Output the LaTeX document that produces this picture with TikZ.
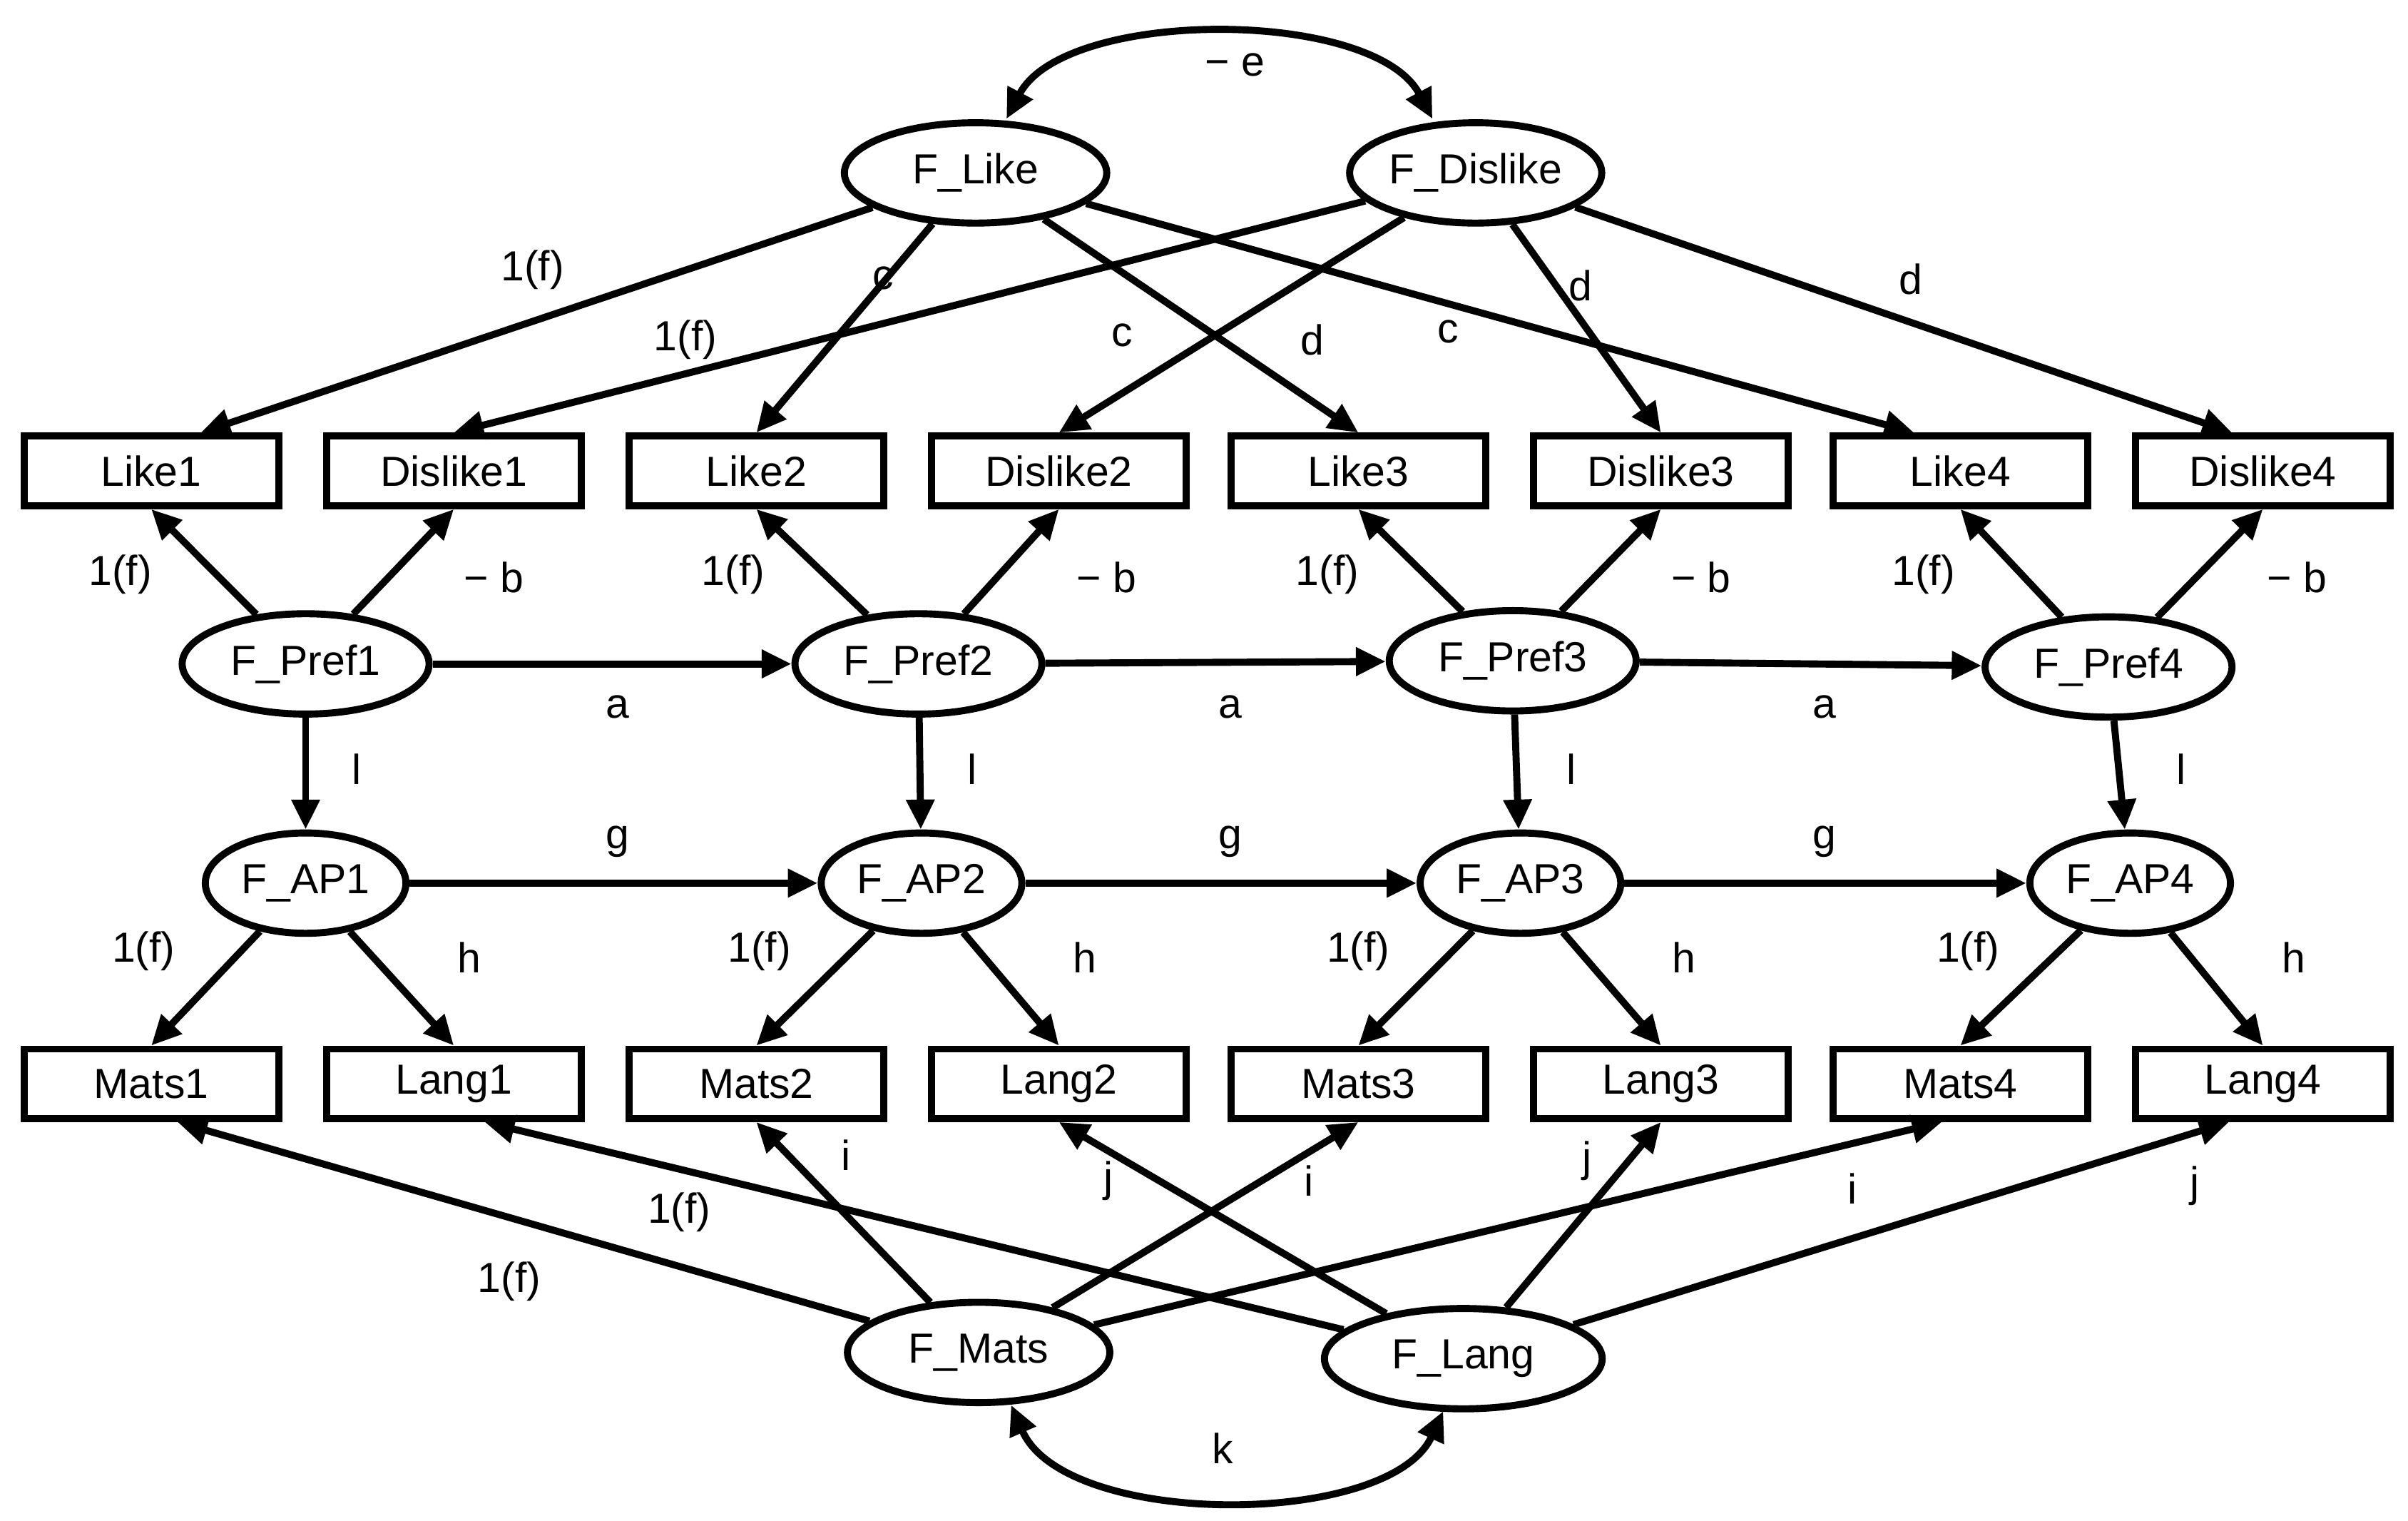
\documentclass[tikz,border=0pt]{standalone}
\usepackage{fontspec}
\setmainfont{Liberation Sans}
\usetikzlibrary{arrows.meta,shapes.geometric}
\begin{document}
\begin{tikzpicture}[x=0.02cm,y=-0.02cm,
  every node/.style={font=\fontsize{15.5}{17}\selectfont},
  el/.style={draw,ellipse,line width=2.6pt,minimum height=1.3cm,inner sep=1pt},
  bx/.style={draw,rectangle,line width=2.6pt,minimum width=3.3cm,minimum height=0.9cm},
  ar/.style={line width=2.6pt,-{Triangle[length=11pt,width=10pt]}},
  br/.style={line width=2.6pt,{Triangle[length=11pt,width=10pt]}-{Triangle[length=11pt,width=10pt]}},
  lb/.style={inner sep=1pt}]
\useasboundingbox (0,0) rectangle (1560,985);
\node[el,minimum width=3.4cm] (FL) at (632,112) {F\_Like};
\node[el,minimum width=3.2cm] (FD) at (956,112) {F\_Dislike};
\node[el,minimum width=3.4cm] (FM) at (634,876) {F\_Mats};
\node[el,minimum width=3.6cm] (FG) at (948,880) {F\_Lang};
\foreach \i/\x/\px/\py/\ax in {1/98/198/430/198, 2/490/595/430/597, 3/880/980/428/985, 4/1270/1366/432/1380}{
  \pgfmathsetmacro{\dx}{\x+196}
  \node[bx] (L\i) at (\x,305) {Like\i};
  \node[bx] (D\i) at (\dx,305) {Dislike\i};
  \node[bx] (M\i) at (\x,702) {Mats\i};
  \node[bx] (G\i) at (\dx,702) {Lang\i};
  \node[el,minimum width=3.2cm] (P\i) at (\px,\py) {F\_Pref\i};
  \node[el,minimum width=2.6cm] (A\i) at (\ax,572) {F\_AP\i};
  \draw[ar] (P\i) -- (L\i.south);
  \draw[ar] (P\i) -- (D\i.south);
  \draw[ar] (P\i) -- (A\i);
  \draw[ar] (A\i) -- (M\i.north);
  \draw[ar] (A\i) -- (G\i.north);
  \node[lb] at (\px-120,372) {1(f)};
  \node[lb] at (\px+122,374) {− b};
  \node[lb] at (\ax+33,498) {l};
  \node[lb] at (\ax-105,616) {1(f)};
  \node[lb] at (\ax+106,620) {h};
}
\draw[ar] (P1) -- (P2); \draw[ar] (P2) -- (P3); \draw[ar] (P3) -- (P4);
\draw[ar] (A1) -- (A2); \draw[ar] (A2) -- (A3); \draw[ar] (A3) -- (A4);
\node[lb] at (400,458) {a}; \node[lb] at (797,458) {a}; \node[lb] at (1182,458) {a};
\node[lb] at (400,545) {g}; \node[lb] at (797,545) {g}; \node[lb] at (1182,545) {g};
\draw[ar] (FL) -- ([shift={(32,0)}]L1.north);
\draw[ar] (FL) -- (L2.north);
\draw[ar] (FL) -- (L3.north);
\draw[ar] (FL) -- ([shift={(-30,0)}]L4.north);
\draw[ar] (FD) -- (D1.north);
\draw[ar] (FD) -- (D2.north);
\draw[ar] (FD) -- (D3.north);
\draw[ar] (FD) -- ([shift={(-20,0)}]D4.north);
\node[lb] at (345,175) {1(f)}; \node[lb] at (572,180) {c}; \node[lb] at (727,217) {c}; \node[lb] at (938,215) {c};
\node[lb] at (444,220) {1(f)}; \node[lb] at (850,220) {d}; \node[lb] at (1024,185) {d}; \node[lb] at (1238,181) {d};
\draw[ar] (FM) -- ([shift={(17,0)}]M1.south);
\draw[ar] (FM) -- (M2.south);
\draw[ar] (FM) -- (M3.south);
\draw[ar] (FM) -- ([shift={(-12,0)}]M4.south);
\draw[ar] (FG) -- ([shift={(20,0)}]G1.south);
\draw[ar] (FG) -- (G2.south);
\draw[ar] (FG) -- (G3.south);
\draw[ar] (FG) -- ([shift={(-22,0)}]G4.south);
\node[lb] at (330,830) {1(f)}; \node[lb] at (548,748) {i}; \node[lb] at (848,765) {i}; \node[lb] at (1200,770) {i};
\node[lb] at (440,785) {1(f)}; \node[lb] at (718,765) {j}; \node[lb] at (1028,752) {j}; \node[lb] at (1422,768) {j};
\coordinate (e1) at (652,77); \coordinate (e2) at (928,77);
\draw[br] (e1) .. controls (690,5) and (890,5) .. (e2);
\node[lb] at (800,42) {− e};
\coordinate (k1) at (655,910); \coordinate (k2) at (935,914);
\draw[br] (k1) .. controls (690,990) and (900,990) .. (k2);
\node[lb] at (792,938) {k};
\end{tikzpicture}
\end{document}
